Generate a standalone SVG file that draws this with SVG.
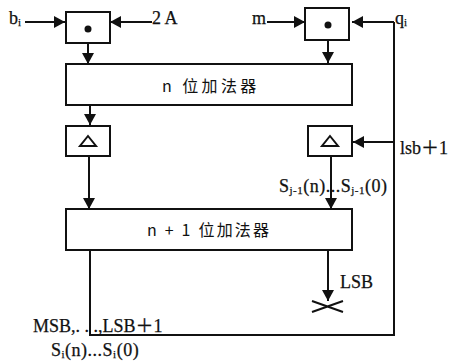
<svg xmlns="http://www.w3.org/2000/svg" width="449" height="361" viewBox="0 0 449 361">
<defs>
<style>
.b{fill:#fff;stroke:#111;stroke-width:2}
.l{fill:none;stroke:#111;stroke-width:2}
.t{font-family:"Liberation Serif","Noto Sans CJK SC",serif;fill:#111;font-size:18px;stroke:#111;stroke-width:.25}
.c{font-family:"Noto Sans CJK SC","Liberation Serif",serif;fill:#111;font-size:16px;letter-spacing:2.2px}
.w{letter-spacing:.5px}
.s{font-size:11px}
.g{fill:#111;stroke:none}
</style>
<marker id="a" markerUnits="userSpaceOnUse" markerWidth="12" markerHeight="12" refX="11" refY="6" orient="auto"><path d="M0 0L11 6L0 12Z" fill="#111"/></marker>
</defs>
<rect width="449" height="361" fill="#fff"/>
<g id="connectors">
<path class="l" d="M25 22H65" marker-end="url(#a)"/>
<path class="l" d="M152 22H110" marker-end="url(#a)"/>
<path class="l" d="M267 22H305" marker-end="url(#a)"/>
<path class="l" d="M394 22H352" marker-end="url(#a)"/>
<path class="l" d="M88 43V64" marker-end="url(#a)"/>
<path class="l" d="M328 40V63" marker-end="url(#a)"/>
<path class="l" d="M90 105V125" marker-end="url(#a)"/>
<path class="l" d="M89 156V209" marker-end="url(#a)"/>
<path class="l" d="M331 156V209" marker-end="url(#a)"/>
<path class="l" d="M394 142H353" marker-end="url(#a)"/>
<path class="l" d="M328 250V301" marker-end="url(#a)"/>
<path class="l" d="M312 312L343 301M312 301L343 312"/>
<path class="l" d="M394 22V335H90V250"/>
</g>
<g id="mul1"><rect class="b" x="66" y="12" width="44" height="31"/><circle class="g" cx="88" cy="29" r="3.500"/></g>
<g id="mul2"><rect class="b" x="305" y="8" width="44" height="32"/><circle class="g" cx="328" cy="25" r="3.500"/></g>
<g id="adder1"><rect class="b" x="66" y="64" width="286" height="41"/><text class="c" x="162" y="92" style="letter-spacing:3.4px">n 位加法器</text></g>
<g id="delay1"><rect class="b" x="66" y="126" width="44" height="30"/><path class="l" d="M88 136L96 146H80Z"/></g>
<g id="delay2"><rect class="b" x="308" y="126" width="44" height="30"/><path class="l" d="M330 136L338 146H322Z"/></g>
<g id="adder2"><rect class="b" x="66" y="209" width="286" height="41"/><text class="c" x="147" y="236">n + 1 位加法器</text></g>
<g id="labels">
<text class="t" x="9" y="24">b<tspan class="s" dy="2">i</tspan></text>
<text class="t" x="152" y="24">2 A</text>
<text class="t" x="252" y="24">m</text>
<text class="t" x="395" y="24">q<tspan class="s" dy="2">i</tspan></text>
<text class="t" x="400" y="154">lsb＋1</text>
<text class="t w" x="279" y="192">S<tspan class="s" dy="2">j-1</tspan><tspan dy="-2">(n)...S</tspan><tspan class="s" dy="2">j-1</tspan><tspan dy="-2">(0)</tspan></text>
<text class="t" x="340" y="288">LSB</text>
<text class="t" x="33" y="332">MSB,. . .,LSB＋1</text>
<text class="t w" x="51" y="356">S<tspan class="s" dy="2">i</tspan><tspan dy="-2">(n)...S</tspan><tspan class="s" dy="2">i</tspan><tspan dy="-2">(0)</tspan></text>
</g>
</svg>
